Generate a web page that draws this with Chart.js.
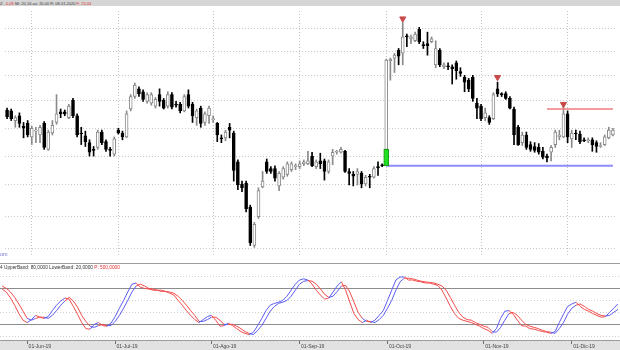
<!DOCTYPE html>
<html>
<head>
<meta charset="utf-8">
<script src="https://cdn.jsdelivr.net/npm/chart.js@4.4.1/dist/chart.umd.min.js"></script>
<style>
  html, body { margin: 0; padding: 0; background: #fff; }
  #wrap { position: relative; width: 620px; height: 350px; overflow: hidden; font-family: "Liberation Sans", Arial, sans-serif; }
  .txt { position: absolute; left: 0; white-space: nowrap; transform: scale(0.5); transform-origin: 0 0; color: #333; }
  .red { color: #e03030; }
  #hdr { position: absolute; left: 0; top: 0; width: 620px; height: 6px; background: #d6d6d6; }
  #hdrText { top: 0.5px; font-size: 8px; line-height: 9px; }
  #priceCanvas { position: absolute; left: 0; top: 6px; }
  #mark { top: 251px; font-size: 11px; line-height: 12px; color: #7878d8; }
  #sep { position: absolute; left: 0; top: 263px; width: 620px; height: 1px; background: #9c9c9c; }
  #stoText { top: 265px; font-size: 9.5px; line-height: 10px; }
  #stoCanvas { position: absolute; left: 0; top: 271px; }
</style>
</head>
<body>
<div id="wrap">
  <div id="hdr"></div>
  <div id="hdrText" class="txt">Z: <span class="red">-0,08</span> Mi: 20,16 au: 20,00 R: 08.01.2020 <span class="red">F: 23,44</span></div>
  <canvas id="priceCanvas" width="620" height="256"></canvas>
  <div id="mark" class="txt">om</div>
  <div id="sep"></div>
  <div id="stoText" class="txt">4 UpperBand: 80,0000 LowerBand: 20,0000 <span class="red">P: 500,0000</span></div>
  <canvas id="stoCanvas" width="620" height="79"></canvas>
</div>
<script>
// daily candles
const opens = [
  15.3, 15.2, 14.2, 14.7, 13.6, 13.9, 12.5, 13.1, 12.7, 13.9,
  11.2, 12.9, 14.0, 15.1, 15.1, 14.5, 16.3, 14.7, 12.9, 12.6,
  11.9, 11.2, 11.4, 13.0, 12.0, 11.2, 10.7, 13.2, 12.9, 12.5,
  15.4, 16.7, 17.5, 17.2, 16.2, 16.0, 15.7, 16.9, 16.3, 15.7,
  16.9, 15.9, 15.9, 15.2, 16.9, 15.9, 14.5, 15.5, 14.0, 14.7,
  14.3, 13.9, 12.4, 12.4, 13.5, 12.9, 9.9, 7.6, 7.7, 5.2,
  1.2, 4.2, 7.3, 9.9, 9.2, 9.2, 7.4, 8.3, 8.6, 9.1,
  9.4, 9.4, 9.7, 9.7, 10.5, 9.4, 10.0, 10.0, 8.9, 10.5,
  10.9, 10.9, 11.0, 8.9, 8.6, 8.6, 8.7, 7.6, 8.4, 8.3,
  9.4, 9.6, 11.2, 20.4, 20.7, 21.5, 21.2, 23.0, 22.7, 22.5,
  23.7, 22.1, 22.2, 22.4, 20.0, 21.5, 19.8, 19.9, 19.8, 20.2,
  19.3, 18.7, 18.4, 18.7, 16.0, 15.7, 14.5, 14.5, 14.4, 17.5,
  17.0, 17.0, 16.5, 15.4, 13.5, 11.9, 12.7, 11.7, 11.5, 11.4,
  11.0, 10.5, 10.9, 11.7, 12.5, 12.5, 14.9, 12.3, 12.9, 12.8,
  12.2, 12.1, 12.2, 11.9, 11.5, 11.7, 12.4, 12.7
];
const highs = [
  15.5, 15.4, 14.7, 15.0, 14.0, 14.2, 13.6, 13.5, 13.7, 14.1,
  13.2, 14.2, 16.9, 15.4, 15.3, 15.9, 16.5, 14.9, 13.5, 13.1,
  12.2, 11.5, 13.2, 13.2, 12.2, 11.4, 12.5, 13.4, 13.1, 15.2,
  16.9, 18.1, 17.7, 17.4, 17.1, 17.1, 16.6, 17.5, 16.5, 17.2,
  17.1, 16.2, 16.1, 16.9, 17.4, 16.1, 15.4, 15.7, 15.1, 15.7,
  14.7, 14.0, 12.7, 13.2, 13.9, 13.1, 10.1, 7.9, 7.9, 5.4,
  3.6, 7.2, 8.9, 10.2, 9.4, 9.5, 8.9, 9.4, 9.9, 9.9,
  9.7, 10.0, 10.1, 11.0, 10.9, 10.1, 10.8, 10.2, 10.1, 11.2,
  11.1, 11.4, 11.1, 9.2, 8.9, 9.2, 8.9, 8.5, 8.6, 9.4,
  9.9, 9.7, 20.6, 20.7, 21.2, 21.7, 24.4, 23.2, 23.1, 23.4,
  23.9, 22.4, 23.4, 22.9, 22.5, 21.7, 20.2, 20.2, 20.0, 20.4,
  19.7, 18.9, 18.6, 18.9, 16.5, 15.9, 15.5, 14.7, 17.1, 18.2,
  17.1, 17.2, 16.7, 15.6, 13.7, 13.0, 13.0, 12.0, 11.9, 11.8,
  11.4, 10.7, 11.6, 13.2, 13.2, 15.6, 15.2, 13.2, 13.2, 13.1,
  12.4, 12.4, 12.4, 12.1, 11.9, 12.7, 13.5, 13.4
];
const lows = [
  14.4, 14.2, 13.5, 13.5, 12.4, 12.5, 11.7, 11.9, 11.9, 11.2,
  11.1, 12.7, 13.8, 14.5, 14.7, 14.4, 14.5, 12.5, 11.7, 11.5,
  10.5, 10.5, 11.2, 11.7, 11.0, 10.5, 10.5, 12.8, 12.2, 12.4,
  15.2, 16.5, 16.7, 16.2, 16.0, 15.8, 15.5, 15.7, 15.4, 15.5,
  15.4, 15.6, 15.0, 15.1, 15.5, 14.0, 13.7, 13.5, 13.7, 13.9,
  14.0, 12.0, 11.9, 12.1, 12.4, 7.9, 7.0, 6.8, 4.7, 1.2,
  1.0, 4.0, 7.2, 8.7, 8.7, 7.9, 6.9, 8.1, 8.4, 8.9,
  9.1, 9.2, 9.5, 9.6, 9.4, 9.2, 9.2, 8.0, 8.7, 9.6,
  10.7, 10.8, 8.8, 7.5, 7.4, 7.5, 7.2, 7.4, 7.2, 8.2,
  8.5, 9.4, 11.1, 18.4, 19.2, 20.0, 20.0, 21.9, 22.2, 22.4,
  22.2, 21.7, 21.0, 22.3, 19.7, 19.8, 19.6, 19.5, 18.0, 18.5,
  18.8, 17.2, 17.2, 16.2, 14.4, 14.2, 14.2, 13.8, 14.3, 16.7,
  16.7, 16.4, 15.4, 11.7, 11.6, 11.6, 11.2, 11.0, 10.9, 10.7,
  10.2, 9.9, 10.0, 11.4, 12.2, 12.4, 11.9, 11.4, 12.2, 11.8,
  12.0, 11.9, 11.0, 10.9, 11.4, 11.6, 12.3, 12.6
];
const closes = [
  14.6, 14.4, 14.5, 13.9, 13.4, 12.7, 13.4, 13.2, 13.5, 11.4,
  13.0, 13.7, 14.9, 14.9, 14.9, 15.7, 14.7, 12.7, 12.8, 12.0,
  10.9, 11.1, 13.0, 11.9, 11.2, 11.1, 12.3, 12.9, 12.5, 14.9,
  16.7, 17.9, 17.0, 16.4, 16.9, 16.9, 16.4, 16.2, 15.5, 16.9,
  15.6, 15.8, 15.2, 16.7, 15.7, 14.7, 15.2, 13.9, 14.9, 15.5,
  14.4, 12.7, 12.3, 13.0, 13.2, 9.0, 7.5, 7.2, 5.0, 1.5,
  3.4, 6.9, 7.9, 8.9, 8.9, 8.2, 8.7, 9.2, 9.7, 9.7,
  9.5, 9.7, 9.9, 10.0, 9.5, 9.9, 9.7, 8.9, 9.9, 10.9,
  11.0, 11.2, 8.9, 8.7, 8.4, 8.9, 7.6, 8.3, 8.3, 9.2,
  9.3, 9.5, 20.5, 20.6, 21.0, 20.9, 22.9, 22.9, 22.9, 23.2,
  22.4, 22.0, 22.0, 22.7, 21.7, 20.0, 20.0, 19.8, 19.6, 19.4,
  19.1, 18.2, 17.5, 16.5, 15.5, 14.4, 15.0, 14.0, 16.9, 17.0,
  16.9, 16.5, 15.5, 12.7, 11.7, 12.7, 11.4, 11.2, 11.1, 10.9,
  10.4, 10.3, 11.4, 13.0, 12.7, 14.9, 12.5, 12.9, 12.8, 12.0,
  12.1, 12.2, 11.7, 11.5, 11.6, 12.5, 13.2, 13.2
];

// stochastic oscillator (%K fast, %D slow)
const stochK = [
  79, 74, 64, 52, 38, 27, 23, 28, 35, 32,
  30, 33, 43, 52, 59, 64, 62, 50, 37, 23,
  13, 12, 20, 23, 18, 17, 22, 33, 47, 60,
  74, 87, 89, 82, 80, 79, 77, 77, 75, 75,
  72, 69, 60, 52, 43, 35, 28, 23, 28, 33,
  35, 27, 17, 18, 22, 18, 13, 8, 5, 3,
  7, 18, 30, 43, 52, 55, 57, 60, 67, 77,
  87, 94, 96, 94, 87, 77, 69, 62, 64, 74,
  84, 91, 77, 57, 38, 28, 23, 27, 23, 27,
  35, 43, 60, 77, 94, 99, 99, 94, 94, 92,
  91, 89, 89, 87, 85, 77, 64, 50, 38, 30,
  27, 25, 23, 20, 17, 13, 10, 5, 13, 30,
  42, 43, 37, 27, 18, 17, 13, 12, 10, 8,
  7, 5, 8, 23, 37, 50, 54, 57, 50, 45,
  42, 38, 35, 32, 33, 40, 47, 54
];
const stochD = [
  84, 80, 74, 65, 54, 42, 30, 27, 30, 32,
  32, 30, 35, 43, 52, 59, 65, 59, 49, 35,
  25, 17, 15, 18, 20, 18, 18, 25, 35, 47,
  60, 74, 84, 87, 84, 80, 79, 77, 77, 75,
  74, 72, 67, 60, 52, 43, 35, 25, 25, 28,
  32, 32, 27, 20, 20, 20, 17, 13, 8, 5,
  3, 10, 18, 30, 42, 50, 55, 57, 60, 67,
  77, 87, 92, 93, 92, 87, 79, 70, 65, 67,
  75, 84, 85, 74, 57, 40, 30, 25, 25, 23,
  28, 35, 47, 60, 77, 91, 97, 97, 96, 94,
  92, 91, 90, 89, 87, 84, 77, 65, 52, 40,
  32, 28, 27, 23, 20, 17, 15, 8, 7, 15,
  27, 38, 40, 35, 27, 20, 17, 15, 13, 10,
  8, 7, 5, 13, 23, 37, 47, 52, 54, 50,
  45, 42, 38, 35, 34, 35, 40, 45
];

// axis ticks and overlays
const monthStarts = [6, 27, 50, 71, 92, 115, 136];
const monthNames = ['01-Jun-19', '01-Jul-19', '01-Ago-19', '01-Sep-19', '01-Oct-19', '01-Nov-19', '01-Dic-19'];
const priceGrid = [0.9, 4.2, 7.5, 10.5, 13.4, 16.3, 18.9, 21.4, 23.8];
const stochGrid = [0, 20, 40, 60, 80, 100];
const bands = [20, 80];
const gapDay = 92;
const arrowDays = [96, 119, 135];
const arrowLevels = [24.8, 18.7, 15.9];
const resistStart = 131;
const resistLevel = 15.4;

const days = opens.map((_, i) => i);
const isUp = closes.map((c, i) => c >= opens[i]);
const gapLevel = closes[gapDay - 1];
const hidden = 'rgba(0,0,0,0)';
const fontFamily = '"Liberation Sans", Arial, sans-serif';

const paneBg = {
    id: 'paneBg',
    beforeDraw(chart, args, opts) {
        const { ctx, chartArea: a, width, height } = chart;
        ctx.save();
        ctx.fillStyle = opts.outer;
        ctx.fillRect(0, 0, width, height);
        ctx.fillStyle = opts.inner;
        ctx.fillRect(a.left, a.top, a.right - a.left, a.bottom - a.top);
        ctx.restore();
    }
};

// price pane
new Chart(document.getElementById('priceCanvas'), {
    type: 'bar',
    data: {
        labels: days,
        datasets: [
            {
                label: 'gap',
                data: days.map(i => i === gapDay ? [gapLevel, opens[i]] : null),
                backgroundColor: '#22dd22',
                borderColor: '#14a014',
                borderWidth: 1,
                borderSkipped: false,
                barThickness: 5,
                grouped: false,
                order: 0
            },
            {
                type: 'line',
                label: 'gap level',
                data: days.map(i => i >= gapDay ? gapLevel : null),
                borderColor: '#8c8cff',
                borderWidth: 2,
                pointRadius: 0,
                order: 0
            },
            {
                type: 'line',
                label: 'resistance',
                data: days.map(i => i >= resistStart ? resistLevel : null),
                borderColor: '#f07a7a',
                borderWidth: 1.5,
                pointRadius: 0,
                order: 0
            },
            {
                type: 'line',
                label: 'signals',
                data: days.map(i => {
                    const k = arrowDays.indexOf(i);
                    return k >= 0 ? arrowLevels[k] : null;
                }),
                showLine: false,
                pointStyle: 'triangle',
                rotation: 180,
                pointRadius: 3.5,
                pointBackgroundColor: '#c84848',
                pointBorderColor: '#c84848',
                order: 0
            },
            {
                label: 'body',
                data: days.map(i => [opens[i], closes[i]]),
                backgroundColor: isUp.map(u => u ? '#ffffff' : '#000000'),
                borderColor: isUp.map(u => u ? '#8a8a8a' : '#000000'),
                borderWidth: 1,
                borderSkipped: false,
                barThickness: 3,
                minBarLength: 1,
                grouped: false,
                order: 1
            },
            {
                label: 'wick',
                data: days.map(i => [lows[i], highs[i]]),
                backgroundColor: isUp.map(u => u ? '#8a8a8a' : '#000000'),
                barThickness: 1,
                grouped: false,
                order: 2
            }
        ]
    },
    options: {
        animation: false,
        responsive: false,
        layout: { padding: 0 },
        plugins: {
            legend: { display: false },
            tooltip: { enabled: false },
            paneBg: { outer: '#ffffff', inner: '#ffffff' }
        },
        scales: {
            x: {
                offset: true,
                grid: {
                    offset: false,
                    drawTicks: false,
                    color: ctx => monthStarts.includes(ctx.index) ? '#c4c4c4' : hidden
                },
                border: { display: false, dash: [1, 2] },
                ticks: { display: false, autoSkip: false }
            },
            y: {
                min: 0,
                max: 25.6,
                grid: { drawTicks: false, color: '#c8c8c8' },
                border: { display: false, dash: [1, 2] },
                ticks: { display: false },
                afterBuildTicks: s => { s.ticks = priceGrid.map(v => ({ value: v })); }
            }
        }
    },
    plugins: [paneBg]
});

// stochastic pane
const kBlue = '#5c5cf4';
const dRed = '#f24c4c';
const segColor = ctx => stochK[ctx.p1DataIndex] > stochD[ctx.p1DataIndex] ? kBlue : dRed;

new Chart(document.getElementById('stoCanvas'), {
    type: 'line',
    data: {
        labels: days,
        datasets: [
            { label: '%K', data: stochK, borderColor: kBlue, borderWidth: 1, pointRadius: 0, segment: { borderColor: segColor } },
            { label: '%D', data: stochD, borderColor: dRed, borderWidth: 1, pointRadius: 0, segment: { borderColor: segColor } }
        ]
    },
    options: {
        animation: false,
        responsive: false,
        layout: { padding: 0 },
        plugins: {
            legend: { display: false },
            tooltip: { enabled: false },
            paneBg: { outer: '#e2e2e2', inner: '#ffffff' }
        },
        scales: {
            x: {
                offset: true,
                grid: {
                    offset: false,
                    drawOnChartArea: false,
                    tickLength: 4,
                    color: hidden,
                    tickColor: ctx => monthStarts.includes(ctx.index) ? '#707070' : hidden
                },
                border: { display: true, color: '#9a9a9a' },
                ticks: {
                    autoSkip: false,
                    maxRotation: 0,
                    align: 'start',
                    padding: 0,
                    color: '#444',
                    font: { size: 5, family: fontFamily },
                    callback: (v, i) => {
                        const k = monthStarts.indexOf(i);
                        return k >= 0 ? ' ' + monthNames[k] : '';
                    }
                }
            },
            y: {
                min: -6,
                max: 109,
                grid: {
                    drawTicks: false,
                    color: ctx => bands.includes(ctx.tick.value) ? '#8c8c8c' : '#d2d2d2'
                },
                border: {
                    display: false,
                    dash: ctx => bands.includes(ctx.tick.value) ? [] : [1, 2]
                },
                ticks: { display: false },
                afterBuildTicks: s => { s.ticks = stochGrid.map(v => ({ value: v })); }
            }
        }
    },
    plugins: [paneBg]
});
</script>
</body>
</html>
